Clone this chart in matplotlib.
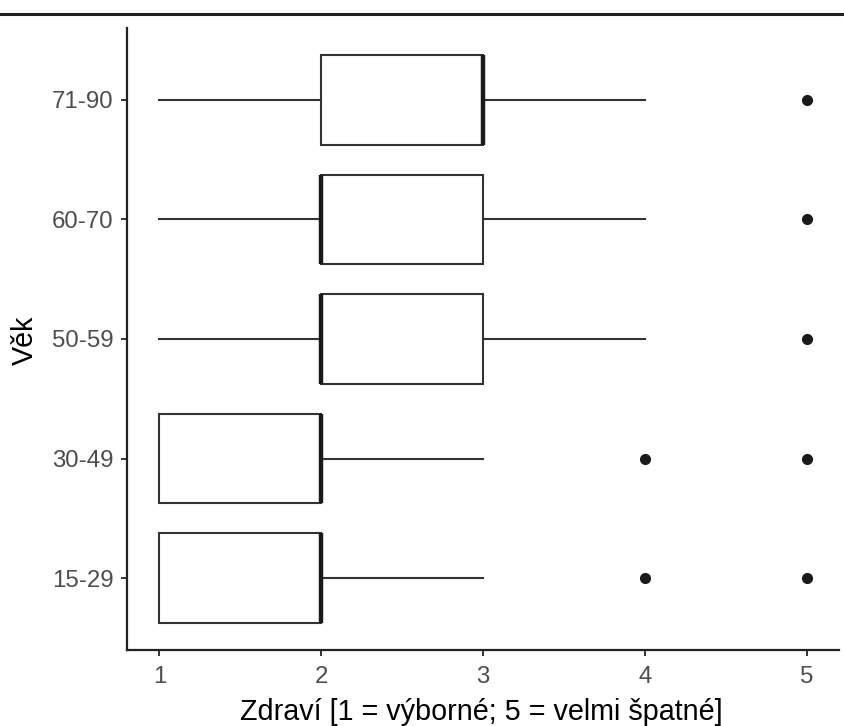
import matplotlib
matplotlib.use("Agg")
import matplotlib.pyplot as plt
from matplotlib.lines import Line2D

plt.rcParams['font.family'] = ['Liberation Sans', 'DejaVu Sans']

categories = ["15-29", "30-49", "50-59", "60-70", "71-90"]
whislo = [1, 1, 1, 1, 1]
q1 = [1, 1, 2, 2, 2]
med = [2, 2, 2, 2, 3]
q3 = [2, 2, 3, 3, 3]
whishi = [3, 3, 4, 4, 4]
outliers = [[4, 5], [4, 5], [5], [5], [5]]
x_ticks = [1, 2, 3, 4, 5]

W, H = 845, 726
AX_L, AX_R, AX_T, AX_B = 127, 839, 28, 650
fig = plt.figure(figsize=(W / 100, H / 100), dpi=100)
ax = fig.add_axes([AX_L / W, (H - AX_B) / H, (AX_R - AX_L) / W, (AX_B - AX_T) / H])

stats = []
for i, c in enumerate(categories):
    stats.append(dict(label=c, whislo=whislo[i], q1=q1[i], med=med[i],
                      q3=q3[i], whishi=whishi[i], fliers=outliers[i]))

line_col = "#333333"
ax.bxp(stats, positions=range(1, len(categories) + 1), vert=False, widths=0.75,
       showcaps=False, patch_artist=True,
       boxprops=dict(facecolor="white", edgecolor=line_col, linewidth=1.5),
       whiskerprops=dict(color=line_col, linewidth=1.5),
       medianprops=dict(color="#1a1a1a", linewidth=3.2, solid_capstyle="butt"),
       flierprops=dict(marker="o", markerfacecolor="#1a1a1a", markeredgecolor="#1a1a1a",
                       markersize=7, linestyle="none"))

ax.set_xlim(0.8, 5.2)
ax.set_ylim(0.4, 5.6)
ax.set_xticks(x_ticks)
ax.set_xticklabels([str(t) for t in x_ticks])
ax.set_yticks(range(1, len(categories) + 1))
ax.set_yticklabels(categories)

for s in ["top", "right"]:
    ax.spines[s].set_visible(False)
for s in ["left", "bottom"]:
    ax.spines[s].set_color("#222222")
    ax.spines[s].set_linewidth(1.6)

ax.tick_params(axis="both", length=4.3, width=1.4, color="#333333",
               labelcolor="#4D4D4D", labelsize=17.3)
ax.tick_params(axis="y", pad=5.5)
ax.tick_params(axis="x", pad=7.5)

ax.set_xlabel("Zdraví [1 = výborné; 5 = velmi špatné]", fontsize=20.7, color="black")
ax.xaxis.label.set_va("baseline")
ax.xaxis.set_label_coords((481.5 - AX_L) / (AX_R - AX_L), (AX_B - 720) / (AX_B - AX_T))
ax.set_ylabel("Věk", fontsize=20.7, color="black")
ax.yaxis.label.set_va("center")
ax.yaxis.label.set_ha("center")
ax.yaxis.set_label_coords((25 - AX_L) / (AX_R - AX_L), (AX_B - 340) / (AX_B - AX_T))

fig.add_artist(Line2D([0, 1], [(H - 14) / H, (H - 14) / H], color="#222222",
                      linewidth=2.2, transform=fig.transFigure))

fig.savefig("out.png", dpi=100, facecolor="white")
